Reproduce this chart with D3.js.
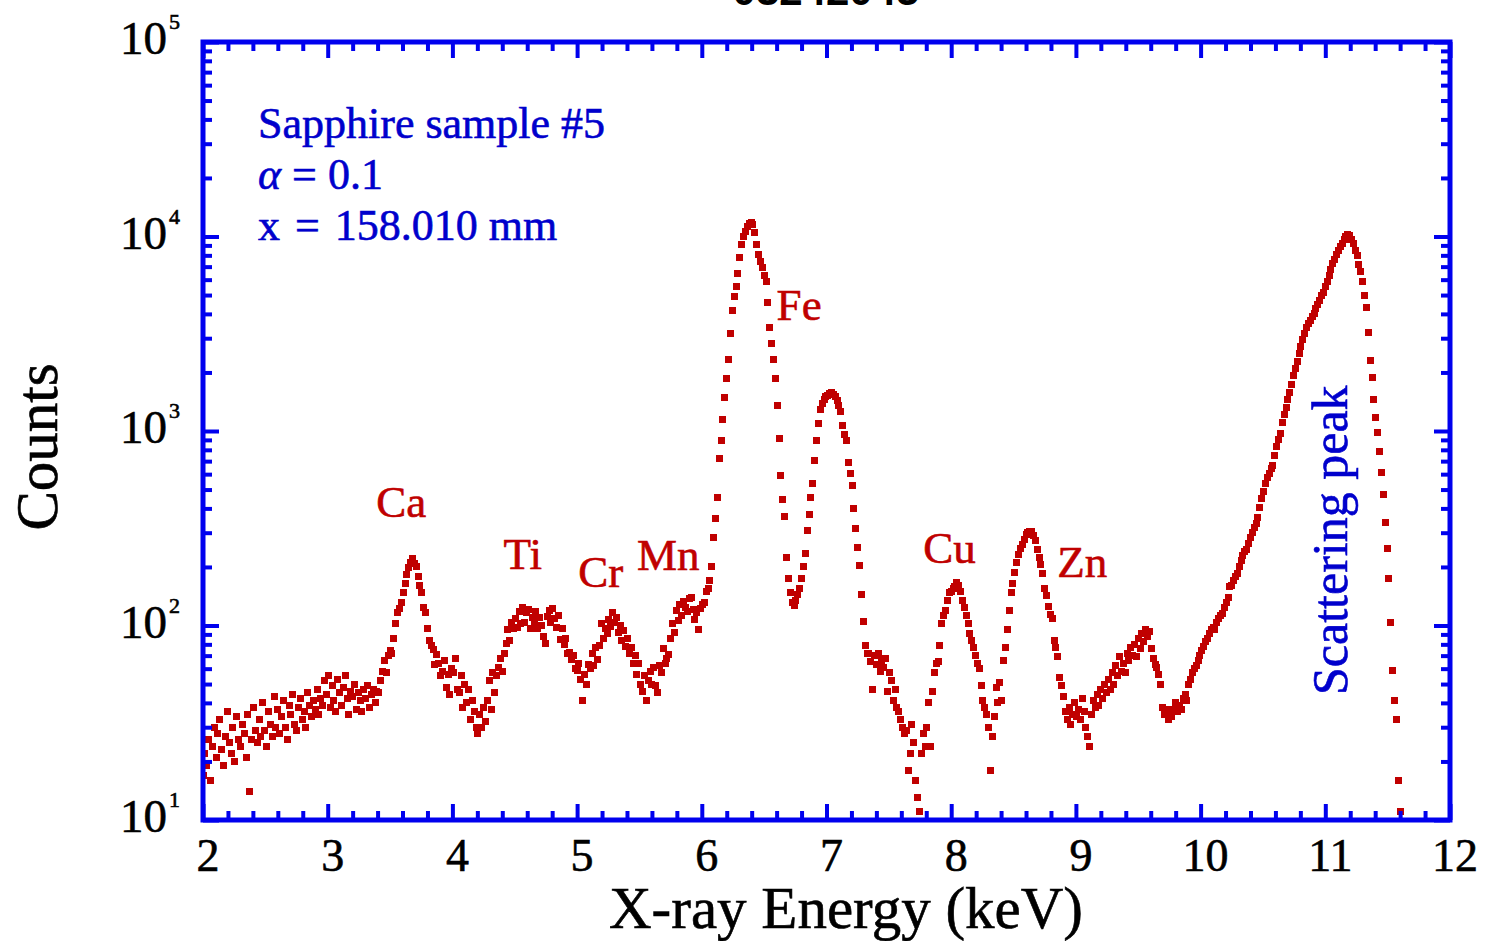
<!DOCTYPE html>
<html>
<head>
<meta charset="utf-8">
<script src="https://cdn.jsdelivr.net/npm/d3@7"></script>
<style>
  html, body { margin: 0; padding: 0; background: #ffffff; }
  svg { display: block; }
</style>
</head>
<body>
<svg id="chart" width="1489" height="941"></svg>
<script>
// ---- Spectrum data: channel energies start at E_START and advance by E_STEP (keV) ----
const E_START = 2.0;
const E_STEP = 0.015;

// Counts per channel, 2.000 keV .. 11.600 keV
const counts = [
  // 2.000
  17,22,19,26,16,24,30,21,28,33,
  23,19,27,36,25,22,30,20,34,26,
  24,31,28,21,35,14,26,38,29,25,
  33,27,40,29,24,36,31,27,43,30,
  37,28,34,41,30,26,39,35,44,31,
  29,38,42,33,36,30,45,39,34,41,
  37,47,35,42,39,52,44,55,38,49,
  41,36,53,45,39,48,55,42,35,46,
  43,50,37,45,41,36,47,42,49,38,
  44,47,40,46,
  // 3.410 (Ca)
  45,52,58,66,57,70,74,72,86,103,
  116,122,131,147,165,182,198,212,220,208,
  200,178,161,147,124,116,97,84,79,75,
  63,71,64,55,58,66,48,56,44,60,
  57,68,47,45,55,38,50,40,47,33,
  41,36,30,
  // 4.205 (Ti)
  28,35,30,38,32,41,52,37,57,45,
  55,61,68,58,72,81,95,84,104,97,
  108,98,118,103,124,104,116,121,97,110,
  102,118,96,110,100,88,81,111,120,104,
  122,108,98,112,85,97,80,86,72,73,
  67,70,60,59,
  // 5.015 (Cr)
  64,53,41,56,50,63,60,72,62,77,
  67,79,103,86,97,91,107,99,116,104,
  110,92,100,84,94,78,86,72,77,64,
  70,56,64,50,46,55,41,52,58,50,
  // 5.615 (Mn)
  61,49,45,62,57,76,64,68,71,86,
  103,92,120,106,128,113,133,124,118,137,
  140,121,107,116,95,122,128,132,150,155,
  171,
  // 6.080 (Fe K-alpha)
  200,282,355,457,724,891,1148,1479,1862,2344,
  3162,4169,4898,5559,6457,7762,9120,10000,10590,11220,
  11610,11750,11480,10470,9120,8035,7413,6918,6310,5888,
  4571,3388,2818,2344,1862,1349,912,589,442,363,
  224,174,148,132,126,
  // 6.755 (Fe K-beta)
  135,145,155,174,200,234,309,372,457,537,
  708,891,1096,1288,1380,1445,1496,1531,1567,1574,
  1549,1496,1429,1349,1259,1072,955,891,692,603,
  525,398,316,251,204,145,105,79,72,
  // 7.340 (Cu)
  72,65,47,70,63,72,58,66,61,68,
  46,57,52,41,47,38,36,33,30,28,
  29,18,22,31,25,16,13,11,22,28,
  24,30,40,24,46,57,64,65,79,103,
  112,120,135,147,150,155,158,167,160,149,
  135,124,113,102,91,84,77,70,64,60,
  49,41,38,35,30,18,27,34,48,40,
  51,41,
  // 8.420 (Zn)
  66,77,95,120,147,165,188,210,232,248,
  262,278,292,300,305,303,290,272,245,225,
  205,185,155,142,125,114,109,84,77,69,
  54,49,43,36,33,38,31,35,40,34,
  37,33,42,36,30,27,24,35,41,38,
  44,39,47,42,50,45,53,47,57,50,
  62,55,69,58,64,57,72,66,77,70,
  80,69,86,76,91,83,95,88,93,76,
  68,63,61,56,50,38,35,37,33,36,
  34,37,40,36,39,37,42,44,41,50,
  53,57,60,62,66,70,74,78,83,86,
  91,95,98,
  // 10.115 (scattering peak)
  95,104,108,112,115,124,131,140,158,160,
  170,178,185,200,215,228,240,247,265,285,
  300,318,335,360,406,450,490,540,575,605,
  640,668,750,830,900,975,1100,1210,1320,1450,
  1570,1740,1930,2100,2280,2500,2720,2960,3180,3400,
  3550,3700,3870,4040,4250,4490,4700,4950,5180,5500,
  5900,6300,6800,7250,7650,8050,8500,8900,9250,9650,
  9950,10190,10100,9700,9200,8500,8000,7200,6600,5900,
  5000,4300,3200,2300,1880,1450,1180,980,780,610,
  470,340,250,175,104,59,41,33,16,11
];

// Axis ticks and labels
const xTickValues = [2, 3, 4, 5, 6, 7, 8, 9, 10, 11, 12];
const yDecades = [10, 100, 1000, 10000, 100000];
const yExponents = ["1", "2", "3", "4", "5"];

// Text
const titleText = "03242045";
const xTitle = "X-ray Energy (keV)";
const yTitle = "Counts";
const sampleName = "Sapphire sample #5";
const alphaValue = "0.1";
const positionValue = "158.010 mm";
const elementNames = ["Ca", "Ti", "Cr", "Mn", "Fe", "Cu", "Zn"];
const scatterName = "Scattering peak";

// ---- Layout ----
const svg = d3.select("#chart");
const plotLeft = 203, plotRight = 1450, plotTop = 42, plotBottom = 820;
const BLUE = "#0000ee";
const TEXT_BLUE = "#0000cc";
const RED = "#c00000";
const SERIF = "'Liberation Serif', 'Times New Roman', Times, serif";

const x = d3.scaleLinear().domain([2, 12]).range([plotLeft, plotRight]);
const y = d3.scaleLog().domain([10, 1e5]).range([plotBottom, plotTop]);

const spectrum = counts.map((c, i) => ({ e: E_START + i * E_STEP, c }));

// Slightly heavier glyphs for the serif labels
function serif(sel, size, color) {
  return sel.style("font-family", SERIF).style("font-size", size + "px")
    .attr("fill", color).attr("stroke", color).attr("stroke-width", 0.6);
}

// Clip data to the plot frame
svg.append("defs").append("clipPath").attr("id", "plotClip")
  .append("rect").attr("x", plotLeft).attr("y", plotTop)
  .attr("width", plotRight - plotLeft).attr("height", plotBottom - plotTop);

// Title (partly above the top edge of the page)
svg.append("text")
  .attr("x", 826).attr("y", 5)
  .attr("text-anchor", "middle")
  .style("font-family", "'Liberation Sans', Arial, sans-serif")
  .style("font-weight", "bold")
  .style("font-size", "42px")
  .attr("fill", "#000")
  .text(titleText);

// ---- Data points: small filled squares ----
const MS = 7;
svg.append("g").attr("clip-path", "url(#plotClip)")
  .selectAll("rect")
  .data(spectrum.filter(d => d.c >= 10))
  .join("rect")
  .attr("x", d => Math.round(x(d.e) - MS / 2))
  .attr("y", d => Math.round(y(d.c) - MS / 2))
  .attr("width", MS).attr("height", MS)
  .attr("fill", RED);

// ---- Ticks (pointing inward on all four sides) ----
const xMinor = d3.range(2, 12.0001, 0.2).filter(v => Math.abs(v - Math.round(v)) > 1e-6);
const yMinor = [];
yDecades.slice(0, -1).forEach(d => { for (let k = 2; k <= 9; k++) yMinor.push(d * k); });

function styleAxis(g) {
  g.select(".domain").remove();
  g.selectAll(".tick line").attr("stroke", BLUE).attr("stroke-width", 4);
  g.selectAll(".tick text").remove();
}

const MAJ = 16, MIN = 9;
svg.append("g").attr("transform", `translate(0,${plotBottom})`)
  .call(d3.axisBottom(x).tickValues(xTickValues).tickSize(-MAJ)).call(styleAxis);
svg.append("g").attr("transform", `translate(0,${plotBottom})`)
  .call(d3.axisBottom(x).tickValues(xMinor).tickSize(-MIN)).call(styleAxis);
svg.append("g").attr("transform", `translate(0,${plotTop})`)
  .call(d3.axisTop(x).tickValues(xTickValues).tickSize(-MAJ)).call(styleAxis);
svg.append("g").attr("transform", `translate(0,${plotTop})`)
  .call(d3.axisTop(x).tickValues(xMinor).tickSize(-MIN)).call(styleAxis);
svg.append("g").attr("transform", `translate(${plotLeft},0)`)
  .call(d3.axisLeft(y).tickValues(yDecades).tickSize(-MAJ)).call(styleAxis);
svg.append("g").attr("transform", `translate(${plotLeft},0)`)
  .call(d3.axisLeft(y).tickValues(yMinor).tickSize(-MIN)).call(styleAxis);
svg.append("g").attr("transform", `translate(${plotRight},0)`)
  .call(d3.axisRight(y).tickValues(yDecades).tickSize(-MAJ)).call(styleAxis);
svg.append("g").attr("transform", `translate(${plotRight},0)`)
  .call(d3.axisRight(y).tickValues(yMinor).tickSize(-MIN)).call(styleAxis);

// Frame
svg.append("rect")
  .attr("x", plotLeft).attr("y", plotTop)
  .attr("width", plotRight - plotLeft).attr("height", plotBottom - plotTop)
  .attr("fill", "none").attr("stroke", BLUE).attr("stroke-width", 5);

// ---- Tick labels ----
svg.append("g").selectAll("text")
  .data(xTickValues)
  .join("text")
  .attr("x", d => x(d) + 5).attr("y", plotBottom + 51)
  .attr("text-anchor", "middle")
  .call(serif, 46, "#000")
  .text(d => d);

const yLab = svg.append("g").selectAll("g")
  .data(yDecades)
  .join("g");
yLab.append("text")
  .attr("x", plotLeft - 36).attr("y", d => y(d) + 12)
  .attr("text-anchor", "end")
  .call(serif, 47, "#000")
  .text("10");
yLab.append("text")
  .attr("x", plotLeft - 34).attr("y", d => y(d) - 13)
  .attr("text-anchor", "start")
  .call(serif, 22, "#000")
  .text((d, i) => yExponents[i]);

// ---- Axis titles ----
svg.append("text")
  .attr("x", 846).attr("y", 928)
  .attr("text-anchor", "middle")
  .call(serif, 59, "#000")
  .text(xTitle);

svg.append("text")
  .attr("transform", "translate(57,447) rotate(-90)")
  .attr("text-anchor", "middle")
  .call(serif, 59, "#000")
  .text(yTitle);

// ---- Sample annotation (blue) ----
const note = svg.append("g");
note.append("text").attr("x", 258).attr("y", 138).call(serif, 44, TEXT_BLUE).text(sampleName);
const alphaLine = note.append("text").attr("x", 258).attr("y", 189).call(serif, 44, TEXT_BLUE);
alphaLine.append("tspan").style("font-style", "italic").text("\u03B1");
alphaLine.append("tspan").text(" = " + alphaValue);
const posLine = note.append("text").attr("x", 258).attr("y", 240).call(serif, 44, TEXT_BLUE);
posLine.append("tspan").text("x");
posLine.append("tspan").attr("dx", 4).text(" =");
posLine.append("tspan").attr("dx", 4).text(" " + positionValue);

// ---- Element labels (dark red), anchored in data coordinates ----
const labelAnchors = [
  { e: 3.39, c: 361 },   // Ca
  { e: 4.41, c: 195 },   // Ti
  { e: 5.01, c: 158 },   // Cr
  { e: 5.48, c: 192 },   // Mn
  { e: 6.60, c: 3725 },  // Fe
  { e: 7.775, c: 210 },  // Cu
  { e: 8.85, c: 177 }    // Zn
];
svg.append("g").selectAll("text")
  .data(elementNames)
  .join("text")
  .attr("x", (d, i) => x(labelAnchors[i].e))
  .attr("y", (d, i) => y(labelAnchors[i].c))
  .call(serif, 45, RED)
  .text(d => d);

// Rotated label for the scattering peak
svg.append("text")
  .attr("transform", `translate(1347,695) rotate(-90)`)
  .attr("text-anchor", "start")
  .call(serif, 50, TEXT_BLUE)
  .text(scatterName);
</script>
</body>
</html>
